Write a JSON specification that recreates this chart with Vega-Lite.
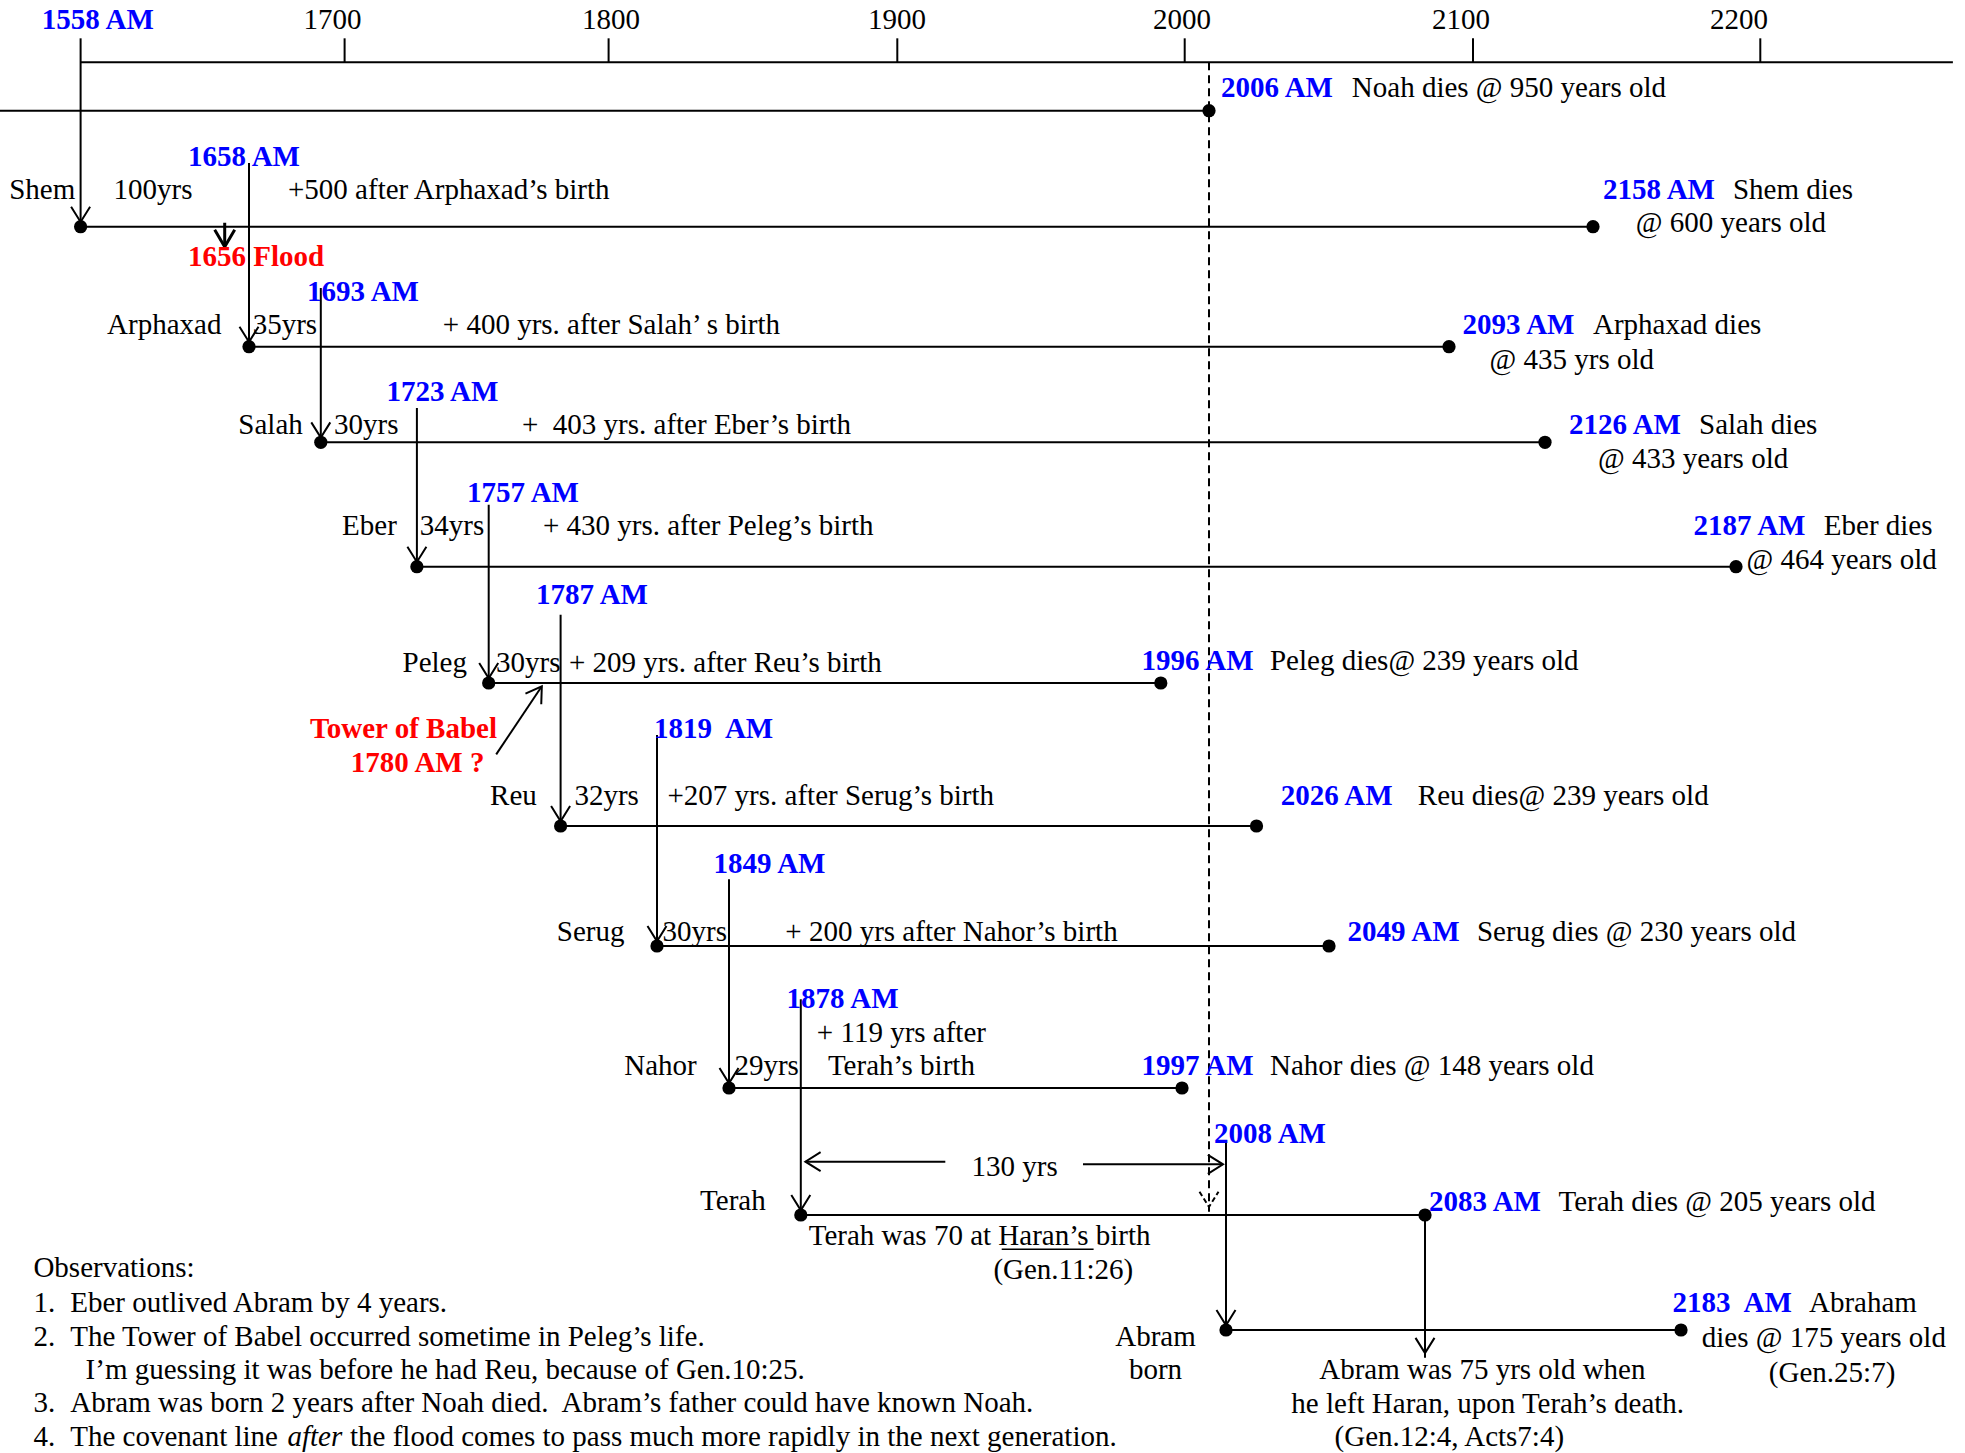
{
  "$schema": "https://vega.github.io/schema/vega-lite/v6.json",
  "usermeta": {"embedOptions": {"actions": false}},
  "width": 1965,
  "height": 1453,
  "padding": 0,
  "autosize": {"type": "none"},
  "background": "white",
  "config": {"view": {"stroke": null}},
  "datasets": {
    "axis": [{"from": 1558, "to": 2266.8}],
    "ticks": [
      {"year": 1700, "lx": 1696.47},
      {"year": 1800, "lx": 1800.94},
      {"year": 1900, "lx": 1899.93},
      {"year": 2000, "lx": 1997.0},
      {"year": 2100, "lx": 2096.5},
      {"year": 2200, "lx": 2188.6}
    ],
    "lives": [
      {"person": "Noah", "birth": 1056, "death": 2006, "gen": 1},
      {"person": "Shem", "birth": 1558, "death": 2158, "gen": 2},
      {"person": "Arphaxad", "birth": 1658, "death": 2093, "gen": 3},
      {"person": "Salah", "birth": 1693, "death": 2126, "gen": 4},
      {"person": "Eber", "birth": 1723, "death": 2187, "gen": 5},
      {"person": "Peleg", "birth": 1757, "death": 1996, "gen": 6},
      {"person": "Reu", "birth": 1787, "death": 2026, "gen": 7},
      {"person": "Serug", "birth": 1819, "death": 2049, "gen": 8},
      {"person": "Nahor", "birth": 1849, "death": 1997, "gen": 9},
      {"person": "Terah", "birth": 1878, "death": 2083, "gen": 10},
      {"person": "Abram", "birth": 2008, "death": 2183, "gen": 11}
    ],
    "descents": [
      {"child": "Shem", "year": 1558, "top": -0.385, "bottom": 2},
      {"child": "Arphaxad", "year": 1658, "top": 1.451, "bottom": 3},
      {"child": "Salah", "year": 1693, "top": 2.511, "bottom": 4},
      {"child": "Eber", "year": 1723, "top": 3.641, "bottom": 5},
      {"child": "Peleg", "year": 1757, "top": 4.502, "bottom": 6},
      {"child": "Reu", "year": 1787, "top": 5.413, "bottom": 7},
      {"child": "Serug", "year": 1819, "top": 6.364, "bottom": 8},
      {"child": "Nahor", "year": 1849, "top": 7.444, "bottom": 9},
      {"child": "Terah", "year": 1878, "top": 8.375, "bottom": 10},
      {"child": "Abram", "year": 2008, "top": 9.423, "bottom": 11},
      {"child": "Abram leaves Haran", "year": 2083, "top": 10, "bottom": 11.226}
    ],
    "noah": [{"year": 2006, "top": 0, "bottom": 9.974}],
    "flood": [{"year": 1656, "top": 1.966, "bottom": 2.167}],
    "span": [
      {"from": 1917.49, "to": 1879.05, "gen": 9.58, "dir": "left"},
      {"from": 1967.65, "to": 2007.65, "gen": 9.601, "dir": "right"}
    ],
    "babel": [{"year": 1760.13, "gen": 6.499, "year2": 1779.16, "gen2": 6.023}],
    "underline": [{"from": 1938.04, "to": 1971.52, "gen": 10.298}],
    "labels": [
      {"text": "1558 AM", "year": 1539.71, "gen": -0.674, "role": "am"},
      {"text": "2006 AM", "year": 2007.41, "gen": 0.537, "role": "am"},
      {"text": "1658 AM", "year": 1631.04, "gen": 1.397, "role": "am"},
      {"text": "2158 AM", "year": 2160.84, "gen": 1.684, "role": "am"},
      {"text": "1693 AM", "year": 1686.27, "gen": 2.542, "role": "am"},
      {"text": "2093 AM", "year": 2096.94, "gen": 2.819, "role": "am"},
      {"text": "1723 AM", "year": 1713.3, "gen": 3.476, "role": "am"},
      {"text": "2126 AM", "year": 2142.0, "gen": 3.816, "role": "am"},
      {"text": "1757 AM", "year": 1746.72, "gen": 4.408, "role": "am"},
      {"text": "2187 AM", "year": 2183.91, "gen": 4.675, "role": "am"},
      {"text": "1787 AM", "year": 1776.74, "gen": 5.241, "role": "am"},
      {"text": "1996 AM", "year": 1989.0, "gen": 5.813, "role": "am"},
      {"text": "1819\u00a0 AM", "year": 1817.82, "gen": 6.324, "role": "am"},
      {"text": "2026 AM", "year": 2033.68, "gen": 6.79, "role": "am"},
      {"text": "1849 AM", "year": 1842.54, "gen": 7.319, "role": "am"},
      {"text": "2049 AM", "year": 2055.59, "gen": 7.886, "role": "am"},
      {"text": "1878 AM", "year": 1872.26, "gen": 8.375, "role": "am"},
      {"text": "1997 AM", "year": 1989.0, "gen": 8.845, "role": "am"},
      {"text": "2008 AM", "year": 2006.59, "gen": 9.364, "role": "am"},
      {"text": "2083 AM", "year": 2084.67, "gen": 9.895, "role": "am"},
      {"text": "2183\u00a0 AM", "year": 2180.61, "gen": 10.768, "role": "am"},
      {"text": "1656 Flood", "year": 1631.04, "gen": 2.25, "role": "event"},
      {"text": "Tower of Babel", "year": 1760.46, "gen": 6.324, "role": "babel"},
      {"text": "1780 AM ?", "year": 1755.01, "gen": 6.557, "role": "babel"},
      {"text": "Shem", "year": 1555.45, "gen": 1.684, "role": "name"},
      {"text": "Arphaxad", "year": 1653.76, "gen": 2.819, "role": "name"},
      {"text": "Salah", "year": 1684.23, "gen": 3.816, "role": "name"},
      {"text": "Eber", "year": 1716.61, "gen": 4.675, "role": "name"},
      {"text": "Peleg", "year": 1746.72, "gen": 5.828, "role": "name"},
      {"text": "Reu", "year": 1777.07, "gen": 6.79, "role": "name"},
      {"text": "Serug", "year": 1806.24, "gen": 7.886, "role": "name"},
      {"text": "Nahor", "year": 1835.58, "gen": 8.845, "role": "name"},
      {"text": "Terah", "year": 1863.82, "gen": 9.888, "role": "name"},
      {"text": "Noah dies @ 950 years old", "year": 2057.08, "gen": 0.537, "role": "note"},
      {"text": "100yrs", "year": 1580.44, "gen": 1.684, "role": "note"},
      {"text": "+500 after Arphaxad\u2019s birth", "year": 1677.01, "gen": 1.684, "role": "note"},
      {"text": "Shem dies", "year": 2186.78, "gen": 1.684, "role": "note"},
      {"text": "@ 600 years old", "year": 2170.16, "gen": 1.971, "role": "note"},
      {"text": "35yrs", "year": 1659.8, "gen": 2.819, "role": "note"},
      {"text": "+ 400 yrs. after Salah\u2019 s birth", "year": 1735.26, "gen": 2.819, "role": "note"},
      {"text": "Arphaxad dies", "year": 2158.0, "gen": 2.819, "role": "note"},
      {"text": "@ 435 yrs old", "year": 2105.99, "gen": 3.136, "role": "note"},
      {"text": "30yrs", "year": 1696.88, "gen": 3.816, "role": "note"},
      {"text": "+\u00a0 403 yrs. after Eber\u2019s birth", "year": 1770.89, "gen": 3.816, "role": "note"},
      {"text": "Salah dies", "year": 2184.31, "gen": 3.816, "role": "note"},
      {"text": "@ 433 years old", "year": 2159.42, "gen": 4.134, "role": "note"},
      {"text": "34yrs", "year": 1724.37, "gen": 4.675, "role": "note"},
      {"text": "+ 430 yrs. after Peleg\u2019s birth", "year": 1779.66, "gen": 4.675, "role": "note"},
      {"text": "Eber dies", "year": 2222.03, "gen": 4.675, "role": "note"},
      {"text": "@ 464 years old", "year": 2192.62, "gen": 4.95, "role": "note"},
      {"text": "30yrs", "year": 1760.05, "gen": 5.828, "role": "note"},
      {"text": "+ 209 yrs. after Reu\u2019s birth", "year": 1789.27, "gen": 5.828, "role": "note"},
      {"text": "Peleg dies@ 239 years old", "year": 2030.28, "gen": 5.813, "role": "note"},
      {"text": "32yrs", "year": 1790.74, "gen": 6.79, "role": "note"},
      {"text": "+207 yrs. after Serug\u2019s birth", "year": 1823.38, "gen": 6.79, "role": "note"},
      {"text": "Reu dies@ 239 years old", "year": 2080.45, "gen": 6.79, "role": "note"},
      {"text": "30yrs", "year": 1821.29, "gen": 7.886, "role": "note"},
      {"text": "+ 200 yrs after Nahor\u2019s birth", "year": 1871.74, "gen": 7.886, "role": "note"},
      {"text": "Serug dies @ 230 years old", "year": 2101.44, "gen": 7.886, "role": "note"},
      {"text": "29yrs", "year": 1851.18, "gen": 8.845, "role": "note"},
      {"text": "Nahor dies @ 148 years old", "year": 2030.28, "gen": 8.845, "role": "note"},
      {"text": "130 yrs", "year": 1927.07, "gen": 9.625, "role": "note"},
      {"text": "Terah dies @ 205 years old", "year": 2135.0, "gen": 9.895, "role": "note"},
      {"text": "Terah was 70 at Haran\u2019s birth", "year": 1879.8, "gen": 10.181, "role": "note"},
      {"text": "(Gen.11:26)", "year": 1935.01, "gen": 10.478, "role": "note"},
      {"text": "Abraham", "year": 2216.89, "gen": 10.768, "role": "note"},
      {"text": "dies @ 175 years old", "year": 2184.51, "gen": 11.061, "role": "note"},
      {"text": "+ 119 yrs after", "year": 1901.5, "gen": 8.611, "role": "centered"},
      {"text": "Terah\u2019s birth", "year": 1901.5, "gen": 8.845, "role": "centered"},
      {"text": "Abram", "year": 1994.07, "gen": 11.054, "role": "centered"},
      {"text": "born", "year": 1994.07, "gen": 11.325, "role": "centered"},
      {"text": "(Gen.25:7)", "year": 2224.9, "gen": 11.346, "role": "centered"},
      {"text": "Abram was 75 yrs old when", "year": 2103.38, "gen": 11.325, "role": "centered"},
      {"text": "he left Haran, upon Terah\u2019s death.", "year": 2105.31, "gen": 11.602, "role": "centered"},
      {"text": "(Gen.12:4, Acts7:4)", "year": 2093.09, "gen": 11.867, "role": "centered"},
      {"text": "Observations:", "year": 1535.75, "gen": 10.463, "role": "note"},
      {"text": "1.", "year": 1535.75, "gen": 10.768, "role": "note"},
      {"text": "Eber outlived Abram by 4 years.", "year": 1553.1, "gen": 10.768, "role": "note"},
      {"text": "2.", "year": 1535.75, "gen": 11.054, "role": "note"},
      {"text": "The Tower of Babel occurred sometime in Peleg\u2019s life.", "year": 1553.1, "gen": 11.054, "role": "note"},
      {"text": "I\u2019m guessing it was before he had Reu, because of Gen.10:25.", "year": 1561.4, "gen": 11.325, "role": "note"},
      {"text": "3.", "year": 1535.75, "gen": 11.596, "role": "note"},
      {"text": "Abram was born 2 years after Noah died.\u00a0 Abram\u2019s father could have known Noah.", "year": 1553.1, "gen": 11.596, "role": "note"},
      {"text": "4.", "year": 1535.75, "gen": 11.867, "role": "note"},
      {"text": "The covenant line", "year": 1553.1, "gen": 11.867, "role": "note"},
      {"text": "after", "year": 1676.72, "gen": 11.867, "role": "emph"},
      {"text": "the flood comes to pass much more rapidly in the next generation.", "year": 1701.72, "gen": 11.867, "role": "note"}
    ]
  },
  "layer": [
    {
      "data": {"name": "axis"},
      "mark": {"type": "rule", "color": "black", "strokeWidth": 2},
      "encoding": {
        "x": {"field": "from", "type": "quantitative", "axis": null, "scale": {"domain": [1520,1558,1656,1658,1693,1700,1723,1757,1787,1800,1819,1849,1878,1900,1996,1997,2000,2006,2008,2026,2049,2083,2093,2100,2126,2158,2183,2187,2200,2271], "range": [0,80.6,224.7,249,320.8,344.6,416.9,488.7,560.6,608.6,657,729,800.8,897.3,1160.8,1182,1184.7,1209,1226,1256.5,1329,1425,1449,1473,1545,1593,1681,1736,1760.3,1965], "clamp": true, "zero": false, "nice": false}},
        "x2": {"field": "to"},
        "y": {"datum": 0, "type": "quantitative", "axis": null, "scale": {"domain": [-1,0,1,2,3,4,5,6,7,8,9,10,11,12], "range": [0,62.3,110.7,226.7,346.7,442.3,566.7,683,826,946,1088,1215,1330,1453], "zero": false, "nice": false}}
      }
    },
    {
      "data": {"name": "ticks"},
      "mark": {"type": "rule", "color": "black", "strokeWidth": 2},
      "encoding": {
        "x": {"field": "year", "type": "quantitative", "axis": null, "scale": {"domain": [1520,1558,1656,1658,1693,1700,1723,1757,1787,1800,1819,1849,1878,1900,1996,1997,2000,2006,2008,2026,2049,2083,2093,2100,2126,2158,2183,2187,2200,2271], "range": [0,80.6,224.7,249,320.8,344.6,416.9,488.7,560.6,608.6,657,729,800.8,897.3,1160.8,1182,1184.7,1209,1226,1256.5,1329,1425,1449,1473,1545,1593,1681,1736,1760.3,1965], "clamp": true, "zero": false, "nice": false}},
        "y": {"datum": -0.385, "type": "quantitative", "axis": null, "scale": {"domain": [-1,0,1,2,3,4,5,6,7,8,9,10,11,12], "range": [0,62.3,110.7,226.7,346.7,442.3,566.7,683,826,946,1088,1215,1330,1453], "zero": false, "nice": false}},
        "y2": {"datum": 0}
      }
    },
    {
      "data": {"name": "ticks"},
      "mark": {"type": "text", "align": "center", "baseline": "middle", "font": "Liberation Serif", "fontSize": 29, "color": "black"},
      "encoding": {
        "x": {"field": "lx", "type": "quantitative", "axis": null, "scale": {"domain": [1520,1558,1656,1658,1693,1700,1723,1757,1787,1800,1819,1849,1878,1900,1996,1997,2000,2006,2008,2026,2049,2083,2093,2100,2126,2158,2183,2187,2200,2271], "range": [0,80.6,224.7,249,320.8,344.6,416.9,488.7,560.6,608.6,657,729,800.8,897.3,1160.8,1182,1184.7,1209,1226,1256.5,1329,1425,1449,1473,1545,1593,1681,1736,1760.3,1965], "clamp": true, "zero": false, "nice": false}},
        "y": {"datum": -0.674, "type": "quantitative", "axis": null, "scale": {"domain": [-1,0,1,2,3,4,5,6,7,8,9,10,11,12], "range": [0,62.3,110.7,226.7,346.7,442.3,566.7,683,826,946,1088,1215,1330,1453], "zero": false, "nice": false}},
        "text": {"field": "year", "type": "quantitative", "format": "d"}
      }
    },
    {
      "data": {"name": "lives"},
      "mark": {"type": "rule", "color": "black", "strokeWidth": 2},
      "encoding": {
        "x": {"field": "birth", "type": "quantitative", "axis": null, "scale": {"domain": [1520,1558,1656,1658,1693,1700,1723,1757,1787,1800,1819,1849,1878,1900,1996,1997,2000,2006,2008,2026,2049,2083,2093,2100,2126,2158,2183,2187,2200,2271], "range": [0,80.6,224.7,249,320.8,344.6,416.9,488.7,560.6,608.6,657,729,800.8,897.3,1160.8,1182,1184.7,1209,1226,1256.5,1329,1425,1449,1473,1545,1593,1681,1736,1760.3,1965], "clamp": true, "zero": false, "nice": false}},
        "x2": {"field": "death"},
        "y": {"field": "gen", "type": "quantitative", "axis": null, "scale": {"domain": [-1,0,1,2,3,4,5,6,7,8,9,10,11,12], "range": [0,62.3,110.7,226.7,346.7,442.3,566.7,683,826,946,1088,1215,1330,1453], "zero": false, "nice": false}}
      }
    },
    {
      "data": {"name": "noah"},
      "mark": {"type": "rule", "color": "black", "strokeWidth": 2, "strokeDash": [8, 5]},
      "encoding": {
        "x": {"field": "year", "type": "quantitative", "axis": null, "scale": {"domain": [1520,1558,1656,1658,1693,1700,1723,1757,1787,1800,1819,1849,1878,1900,1996,1997,2000,2006,2008,2026,2049,2083,2093,2100,2126,2158,2183,2187,2200,2271], "range": [0,80.6,224.7,249,320.8,344.6,416.9,488.7,560.6,608.6,657,729,800.8,897.3,1160.8,1182,1184.7,1209,1226,1256.5,1329,1425,1449,1473,1545,1593,1681,1736,1760.3,1965], "clamp": true, "zero": false, "nice": false}},
        "y": {"field": "top", "type": "quantitative", "axis": null, "scale": {"domain": [-1,0,1,2,3,4,5,6,7,8,9,10,11,12], "range": [0,62.3,110.7,226.7,346.7,442.3,566.7,683,826,946,1088,1215,1330,1453], "zero": false, "nice": false}},
        "y2": {"field": "bottom"}
      }
    },
    {
      "data": {"name": "noah"},
      "mark": {"type": "point", "shape": "M-1,-2.1L0,-0.5L1,-2.1", "size": 361, "filled": false, "stroke": "black", "strokeWidth": 2, "strokeDash": [5, 3], "opacity": 1},
      "encoding": {
        "x": {"field": "year", "type": "quantitative", "axis": null, "scale": {"domain": [1520,1558,1656,1658,1693,1700,1723,1757,1787,1800,1819,1849,1878,1900,1996,1997,2000,2006,2008,2026,2049,2083,2093,2100,2126,2158,2183,2187,2200,2271], "range": [0,80.6,224.7,249,320.8,344.6,416.9,488.7,560.6,608.6,657,729,800.8,897.3,1160.8,1182,1184.7,1209,1226,1256.5,1329,1425,1449,1473,1545,1593,1681,1736,1760.3,1965], "clamp": true, "zero": false, "nice": false}},
        "y": {"field": "bottom", "type": "quantitative", "axis": null, "scale": {"domain": [-1,0,1,2,3,4,5,6,7,8,9,10,11,12], "range": [0,62.3,110.7,226.7,346.7,442.3,566.7,683,826,946,1088,1215,1330,1453], "zero": false, "nice": false}}
      }
    },
    {
      "data": {"name": "descents"},
      "mark": {"type": "rule", "color": "black", "strokeWidth": 2},
      "encoding": {
        "x": {"field": "year", "type": "quantitative", "axis": null, "scale": {"domain": [1520,1558,1656,1658,1693,1700,1723,1757,1787,1800,1819,1849,1878,1900,1996,1997,2000,2006,2008,2026,2049,2083,2093,2100,2126,2158,2183,2187,2200,2271], "range": [0,80.6,224.7,249,320.8,344.6,416.9,488.7,560.6,608.6,657,729,800.8,897.3,1160.8,1182,1184.7,1209,1226,1256.5,1329,1425,1449,1473,1545,1593,1681,1736,1760.3,1965], "clamp": true, "zero": false, "nice": false}},
        "y": {"field": "top", "type": "quantitative", "axis": null, "scale": {"domain": [-1,0,1,2,3,4,5,6,7,8,9,10,11,12], "range": [0,62.3,110.7,226.7,346.7,442.3,566.7,683,826,946,1088,1215,1330,1453], "zero": false, "nice": false}},
        "y2": {"field": "bottom"}
      }
    },
    {
      "data": {"name": "descents"},
      "mark": {"type": "point", "shape": "M-1,-2.1L0,-0.5L1,-2.1", "size": 361, "filled": false, "stroke": "black", "strokeWidth": 2, "opacity": 1},
      "encoding": {
        "x": {"field": "year", "type": "quantitative", "axis": null, "scale": {"domain": [1520,1558,1656,1658,1693,1700,1723,1757,1787,1800,1819,1849,1878,1900,1996,1997,2000,2006,2008,2026,2049,2083,2093,2100,2126,2158,2183,2187,2200,2271], "range": [0,80.6,224.7,249,320.8,344.6,416.9,488.7,560.6,608.6,657,729,800.8,897.3,1160.8,1182,1184.7,1209,1226,1256.5,1329,1425,1449,1473,1545,1593,1681,1736,1760.3,1965], "clamp": true, "zero": false, "nice": false}},
        "y": {"field": "bottom", "type": "quantitative", "axis": null, "scale": {"domain": [-1,0,1,2,3,4,5,6,7,8,9,10,11,12], "range": [0,62.3,110.7,226.7,346.7,442.3,566.7,683,826,946,1088,1215,1330,1453], "zero": false, "nice": false}}
      }
    },
    {
      "data": {"name": "lives"},
      "transform": [{"filter": "datum.birth > 1500"}],
      "mark": {"type": "circle", "size": 175, "color": "black", "opacity": 1},
      "encoding": {
        "x": {"field": "birth", "type": "quantitative", "axis": null, "scale": {"domain": [1520,1558,1656,1658,1693,1700,1723,1757,1787,1800,1819,1849,1878,1900,1996,1997,2000,2006,2008,2026,2049,2083,2093,2100,2126,2158,2183,2187,2200,2271], "range": [0,80.6,224.7,249,320.8,344.6,416.9,488.7,560.6,608.6,657,729,800.8,897.3,1160.8,1182,1184.7,1209,1226,1256.5,1329,1425,1449,1473,1545,1593,1681,1736,1760.3,1965], "clamp": true, "zero": false, "nice": false}},
        "y": {"field": "gen", "type": "quantitative", "axis": null, "scale": {"domain": [-1,0,1,2,3,4,5,6,7,8,9,10,11,12], "range": [0,62.3,110.7,226.7,346.7,442.3,566.7,683,826,946,1088,1215,1330,1453], "zero": false, "nice": false}}
      }
    },
    {
      "data": {"name": "lives"},
      "mark": {"type": "circle", "size": 175, "color": "black", "opacity": 1},
      "encoding": {
        "x": {"field": "death", "type": "quantitative", "axis": null, "scale": {"domain": [1520,1558,1656,1658,1693,1700,1723,1757,1787,1800,1819,1849,1878,1900,1996,1997,2000,2006,2008,2026,2049,2083,2093,2100,2126,2158,2183,2187,2200,2271], "range": [0,80.6,224.7,249,320.8,344.6,416.9,488.7,560.6,608.6,657,729,800.8,897.3,1160.8,1182,1184.7,1209,1226,1256.5,1329,1425,1449,1473,1545,1593,1681,1736,1760.3,1965], "clamp": true, "zero": false, "nice": false}},
        "y": {"field": "gen", "type": "quantitative", "axis": null, "scale": {"domain": [-1,0,1,2,3,4,5,6,7,8,9,10,11,12], "range": [0,62.3,110.7,226.7,346.7,442.3,566.7,683,826,946,1088,1215,1330,1453], "zero": false, "nice": false}}
      }
    },
    {
      "data": {"name": "flood"},
      "mark": {"type": "rule", "color": "black", "strokeWidth": 3},
      "encoding": {
        "x": {"field": "year", "type": "quantitative", "axis": null, "scale": {"domain": [1520,1558,1656,1658,1693,1700,1723,1757,1787,1800,1819,1849,1878,1900,1996,1997,2000,2006,2008,2026,2049,2083,2093,2100,2126,2158,2183,2187,2200,2271], "range": [0,80.6,224.7,249,320.8,344.6,416.9,488.7,560.6,608.6,657,729,800.8,897.3,1160.8,1182,1184.7,1209,1226,1256.5,1329,1425,1449,1473,1545,1593,1681,1736,1760.3,1965], "clamp": true, "zero": false, "nice": false}},
        "y": {"field": "top", "type": "quantitative", "axis": null, "scale": {"domain": [-1,0,1,2,3,4,5,6,7,8,9,10,11,12], "range": [0,62.3,110.7,226.7,346.7,442.3,566.7,683,826,946,1088,1215,1330,1453], "zero": false, "nice": false}},
        "y2": {"field": "bottom"}
      }
    },
    {
      "data": {"name": "flood"},
      "mark": {"type": "point", "shape": "M-1,-1.7L0,0L1,-1.7", "size": 400, "filled": false, "stroke": "black", "strokeWidth": 3, "opacity": 1},
      "encoding": {
        "x": {"field": "year", "type": "quantitative", "axis": null, "scale": {"domain": [1520,1558,1656,1658,1693,1700,1723,1757,1787,1800,1819,1849,1878,1900,1996,1997,2000,2006,2008,2026,2049,2083,2093,2100,2126,2158,2183,2187,2200,2271], "range": [0,80.6,224.7,249,320.8,344.6,416.9,488.7,560.6,608.6,657,729,800.8,897.3,1160.8,1182,1184.7,1209,1226,1256.5,1329,1425,1449,1473,1545,1593,1681,1736,1760.3,1965], "clamp": true, "zero": false, "nice": false}},
        "y": {"field": "bottom", "type": "quantitative", "axis": null, "scale": {"domain": [-1,0,1,2,3,4,5,6,7,8,9,10,11,12], "range": [0,62.3,110.7,226.7,346.7,442.3,566.7,683,826,946,1088,1215,1330,1453], "zero": false, "nice": false}}
      }
    },
    {
      "data": {"name": "span"},
      "mark": {"type": "rule", "color": "black", "strokeWidth": 2},
      "encoding": {
        "x": {"field": "from", "type": "quantitative", "axis": null, "scale": {"domain": [1520,1558,1656,1658,1693,1700,1723,1757,1787,1800,1819,1849,1878,1900,1996,1997,2000,2006,2008,2026,2049,2083,2093,2100,2126,2158,2183,2187,2200,2271], "range": [0,80.6,224.7,249,320.8,344.6,416.9,488.7,560.6,608.6,657,729,800.8,897.3,1160.8,1182,1184.7,1209,1226,1256.5,1329,1425,1449,1473,1545,1593,1681,1736,1760.3,1965], "clamp": true, "zero": false, "nice": false}},
        "x2": {"field": "to"},
        "y": {"field": "gen", "type": "quantitative", "axis": null, "scale": {"domain": [-1,0,1,2,3,4,5,6,7,8,9,10,11,12], "range": [0,62.3,110.7,226.7,346.7,442.3,566.7,683,826,946,1088,1215,1330,1453], "zero": false, "nice": false}}
      }
    },
    {
      "data": {"name": "span"},
      "mark": {"type": "point", "size": 361, "filled": false, "stroke": "black", "strokeWidth": 2, "opacity": 1},
      "encoding": {
        "x": {"field": "to", "type": "quantitative", "axis": null, "scale": {"domain": [1520,1558,1656,1658,1693,1700,1723,1757,1787,1800,1819,1849,1878,1900,1996,1997,2000,2006,2008,2026,2049,2083,2093,2100,2126,2158,2183,2187,2200,2271], "range": [0,80.6,224.7,249,320.8,344.6,416.9,488.7,560.6,608.6,657,729,800.8,897.3,1160.8,1182,1184.7,1209,1226,1256.5,1329,1425,1449,1473,1545,1593,1681,1736,1760.3,1965], "clamp": true, "zero": false, "nice": false}},
        "y": {"field": "gen", "type": "quantitative", "axis": null, "scale": {"domain": [-1,0,1,2,3,4,5,6,7,8,9,10,11,12], "range": [0,62.3,110.7,226.7,346.7,442.3,566.7,683,826,946,1088,1215,1330,1453], "zero": false, "nice": false}},
        "shape": {"field": "dir", "type": "nominal", "legend": null, "scale": {"domain": ["left", "right"], "range": ["M1.6,-1L0,0L1.6,1", "M-1.6,-1L0,0L-1.6,1"]}}
      }
    },
    {
      "data": {"name": "babel"},
      "mark": {"type": "rule", "color": "black", "strokeWidth": 2},
      "encoding": {
        "x": {"field": "year", "type": "quantitative", "axis": null, "scale": {"domain": [1520,1558,1656,1658,1693,1700,1723,1757,1787,1800,1819,1849,1878,1900,1996,1997,2000,2006,2008,2026,2049,2083,2093,2100,2126,2158,2183,2187,2200,2271], "range": [0,80.6,224.7,249,320.8,344.6,416.9,488.7,560.6,608.6,657,729,800.8,897.3,1160.8,1182,1184.7,1209,1226,1256.5,1329,1425,1449,1473,1545,1593,1681,1736,1760.3,1965], "clamp": true, "zero": false, "nice": false}},
        "x2": {"field": "year2"},
        "y": {"field": "gen", "type": "quantitative", "axis": null, "scale": {"domain": [-1,0,1,2,3,4,5,6,7,8,9,10,11,12], "range": [0,62.3,110.7,226.7,346.7,442.3,566.7,683,826,946,1088,1215,1330,1453], "zero": false, "nice": false}},
        "y2": {"field": "gen2"}
      }
    },
    {
      "data": {"name": "babel"},
      "mark": {"type": "point", "shape": "M-1,1.6L0,0L1,1.6", "size": 361, "angle": 33.8, "filled": false, "stroke": "black", "strokeWidth": 2, "opacity": 1},
      "encoding": {
        "x": {"field": "year2", "type": "quantitative", "axis": null, "scale": {"domain": [1520,1558,1656,1658,1693,1700,1723,1757,1787,1800,1819,1849,1878,1900,1996,1997,2000,2006,2008,2026,2049,2083,2093,2100,2126,2158,2183,2187,2200,2271], "range": [0,80.6,224.7,249,320.8,344.6,416.9,488.7,560.6,608.6,657,729,800.8,897.3,1160.8,1182,1184.7,1209,1226,1256.5,1329,1425,1449,1473,1545,1593,1681,1736,1760.3,1965], "clamp": true, "zero": false, "nice": false}},
        "y": {"field": "gen2", "type": "quantitative", "axis": null, "scale": {"domain": [-1,0,1,2,3,4,5,6,7,8,9,10,11,12], "range": [0,62.3,110.7,226.7,346.7,442.3,566.7,683,826,946,1088,1215,1330,1453], "zero": false, "nice": false}}
      }
    },
    {
      "data": {"name": "underline"},
      "mark": {"type": "rule", "color": "black", "strokeWidth": 1.5},
      "encoding": {
        "x": {"field": "from", "type": "quantitative", "axis": null, "scale": {"domain": [1520,1558,1656,1658,1693,1700,1723,1757,1787,1800,1819,1849,1878,1900,1996,1997,2000,2006,2008,2026,2049,2083,2093,2100,2126,2158,2183,2187,2200,2271], "range": [0,80.6,224.7,249,320.8,344.6,416.9,488.7,560.6,608.6,657,729,800.8,897.3,1160.8,1182,1184.7,1209,1226,1256.5,1329,1425,1449,1473,1545,1593,1681,1736,1760.3,1965], "clamp": true, "zero": false, "nice": false}},
        "x2": {"field": "to"},
        "y": {"field": "gen", "type": "quantitative", "axis": null, "scale": {"domain": [-1,0,1,2,3,4,5,6,7,8,9,10,11,12], "range": [0,62.3,110.7,226.7,346.7,442.3,566.7,683,826,946,1088,1215,1330,1453], "zero": false, "nice": false}}
      }
    },
    {
      "data": {"name": "labels"},
      "transform": [{"filter": "datum.role === 'am'"}],
      "mark": {"type": "text", "align": "left", "baseline": "middle", "font": "Liberation Serif", "fontSize": 29, "fontWeight": "bold", "color": "#0000FF"},
      "encoding": {
        "x": {"field": "year", "type": "quantitative", "axis": null, "scale": {"domain": [1520,1558,1656,1658,1693,1700,1723,1757,1787,1800,1819,1849,1878,1900,1996,1997,2000,2006,2008,2026,2049,2083,2093,2100,2126,2158,2183,2187,2200,2271], "range": [0,80.6,224.7,249,320.8,344.6,416.9,488.7,560.6,608.6,657,729,800.8,897.3,1160.8,1182,1184.7,1209,1226,1256.5,1329,1425,1449,1473,1545,1593,1681,1736,1760.3,1965], "clamp": true, "zero": false, "nice": false}},
        "y": {"field": "gen", "type": "quantitative", "axis": null, "scale": {"domain": [-1,0,1,2,3,4,5,6,7,8,9,10,11,12], "range": [0,62.3,110.7,226.7,346.7,442.3,566.7,683,826,946,1088,1215,1330,1453], "zero": false, "nice": false}},
        "text": {"field": "text", "type": "nominal"}
      }
    },
    {
      "data": {"name": "labels"},
      "transform": [{"filter": "datum.role === 'event'"}],
      "mark": {"type": "text", "align": "left", "baseline": "middle", "font": "Liberation Serif", "fontSize": 29, "fontWeight": "bold", "color": "#FF0000"},
      "encoding": {
        "x": {"field": "year", "type": "quantitative", "axis": null, "scale": {"domain": [1520,1558,1656,1658,1693,1700,1723,1757,1787,1800,1819,1849,1878,1900,1996,1997,2000,2006,2008,2026,2049,2083,2093,2100,2126,2158,2183,2187,2200,2271], "range": [0,80.6,224.7,249,320.8,344.6,416.9,488.7,560.6,608.6,657,729,800.8,897.3,1160.8,1182,1184.7,1209,1226,1256.5,1329,1425,1449,1473,1545,1593,1681,1736,1760.3,1965], "clamp": true, "zero": false, "nice": false}},
        "y": {"field": "gen", "type": "quantitative", "axis": null, "scale": {"domain": [-1,0,1,2,3,4,5,6,7,8,9,10,11,12], "range": [0,62.3,110.7,226.7,346.7,442.3,566.7,683,826,946,1088,1215,1330,1453], "zero": false, "nice": false}},
        "text": {"field": "text", "type": "nominal"}
      }
    },
    {
      "data": {"name": "labels"},
      "transform": [{"filter": "datum.role === 'babel'"}],
      "mark": {"type": "text", "align": "right", "baseline": "middle", "font": "Liberation Serif", "fontSize": 29, "fontWeight": "bold", "color": "#FF0000"},
      "encoding": {
        "x": {"field": "year", "type": "quantitative", "axis": null, "scale": {"domain": [1520,1558,1656,1658,1693,1700,1723,1757,1787,1800,1819,1849,1878,1900,1996,1997,2000,2006,2008,2026,2049,2083,2093,2100,2126,2158,2183,2187,2200,2271], "range": [0,80.6,224.7,249,320.8,344.6,416.9,488.7,560.6,608.6,657,729,800.8,897.3,1160.8,1182,1184.7,1209,1226,1256.5,1329,1425,1449,1473,1545,1593,1681,1736,1760.3,1965], "clamp": true, "zero": false, "nice": false}},
        "y": {"field": "gen", "type": "quantitative", "axis": null, "scale": {"domain": [-1,0,1,2,3,4,5,6,7,8,9,10,11,12], "range": [0,62.3,110.7,226.7,346.7,442.3,566.7,683,826,946,1088,1215,1330,1453], "zero": false, "nice": false}},
        "text": {"field": "text", "type": "nominal"}
      }
    },
    {
      "data": {"name": "labels"},
      "transform": [{"filter": "datum.role === 'name'"}],
      "mark": {"type": "text", "align": "right", "baseline": "middle", "font": "Liberation Serif", "fontSize": 29, "color": "black"},
      "encoding": {
        "x": {"field": "year", "type": "quantitative", "axis": null, "scale": {"domain": [1520,1558,1656,1658,1693,1700,1723,1757,1787,1800,1819,1849,1878,1900,1996,1997,2000,2006,2008,2026,2049,2083,2093,2100,2126,2158,2183,2187,2200,2271], "range": [0,80.6,224.7,249,320.8,344.6,416.9,488.7,560.6,608.6,657,729,800.8,897.3,1160.8,1182,1184.7,1209,1226,1256.5,1329,1425,1449,1473,1545,1593,1681,1736,1760.3,1965], "clamp": true, "zero": false, "nice": false}},
        "y": {"field": "gen", "type": "quantitative", "axis": null, "scale": {"domain": [-1,0,1,2,3,4,5,6,7,8,9,10,11,12], "range": [0,62.3,110.7,226.7,346.7,442.3,566.7,683,826,946,1088,1215,1330,1453], "zero": false, "nice": false}},
        "text": {"field": "text", "type": "nominal"}
      }
    },
    {
      "data": {"name": "labels"},
      "transform": [{"filter": "datum.role === 'note'"}],
      "mark": {"type": "text", "align": "left", "baseline": "middle", "font": "Liberation Serif", "fontSize": 29, "color": "black"},
      "encoding": {
        "x": {"field": "year", "type": "quantitative", "axis": null, "scale": {"domain": [1520,1558,1656,1658,1693,1700,1723,1757,1787,1800,1819,1849,1878,1900,1996,1997,2000,2006,2008,2026,2049,2083,2093,2100,2126,2158,2183,2187,2200,2271], "range": [0,80.6,224.7,249,320.8,344.6,416.9,488.7,560.6,608.6,657,729,800.8,897.3,1160.8,1182,1184.7,1209,1226,1256.5,1329,1425,1449,1473,1545,1593,1681,1736,1760.3,1965], "clamp": true, "zero": false, "nice": false}},
        "y": {"field": "gen", "type": "quantitative", "axis": null, "scale": {"domain": [-1,0,1,2,3,4,5,6,7,8,9,10,11,12], "range": [0,62.3,110.7,226.7,346.7,442.3,566.7,683,826,946,1088,1215,1330,1453], "zero": false, "nice": false}},
        "text": {"field": "text", "type": "nominal"}
      }
    },
    {
      "data": {"name": "labels"},
      "transform": [{"filter": "datum.role === 'centered'"}],
      "mark": {"type": "text", "align": "center", "baseline": "middle", "font": "Liberation Serif", "fontSize": 29, "color": "black"},
      "encoding": {
        "x": {"field": "year", "type": "quantitative", "axis": null, "scale": {"domain": [1520,1558,1656,1658,1693,1700,1723,1757,1787,1800,1819,1849,1878,1900,1996,1997,2000,2006,2008,2026,2049,2083,2093,2100,2126,2158,2183,2187,2200,2271], "range": [0,80.6,224.7,249,320.8,344.6,416.9,488.7,560.6,608.6,657,729,800.8,897.3,1160.8,1182,1184.7,1209,1226,1256.5,1329,1425,1449,1473,1545,1593,1681,1736,1760.3,1965], "clamp": true, "zero": false, "nice": false}},
        "y": {"field": "gen", "type": "quantitative", "axis": null, "scale": {"domain": [-1,0,1,2,3,4,5,6,7,8,9,10,11,12], "range": [0,62.3,110.7,226.7,346.7,442.3,566.7,683,826,946,1088,1215,1330,1453], "zero": false, "nice": false}},
        "text": {"field": "text", "type": "nominal"}
      }
    },
    {
      "data": {"name": "labels"},
      "transform": [{"filter": "datum.role === 'emph'"}],
      "mark": {"type": "text", "align": "left", "baseline": "middle", "font": "Liberation Serif", "fontSize": 29, "fontStyle": "italic", "color": "black"},
      "encoding": {
        "x": {"field": "year", "type": "quantitative", "axis": null, "scale": {"domain": [1520,1558,1656,1658,1693,1700,1723,1757,1787,1800,1819,1849,1878,1900,1996,1997,2000,2006,2008,2026,2049,2083,2093,2100,2126,2158,2183,2187,2200,2271], "range": [0,80.6,224.7,249,320.8,344.6,416.9,488.7,560.6,608.6,657,729,800.8,897.3,1160.8,1182,1184.7,1209,1226,1256.5,1329,1425,1449,1473,1545,1593,1681,1736,1760.3,1965], "clamp": true, "zero": false, "nice": false}},
        "y": {"field": "gen", "type": "quantitative", "axis": null, "scale": {"domain": [-1,0,1,2,3,4,5,6,7,8,9,10,11,12], "range": [0,62.3,110.7,226.7,346.7,442.3,566.7,683,826,946,1088,1215,1330,1453], "zero": false, "nice": false}},
        "text": {"field": "text", "type": "nominal"}
      }
    }
  ]
}
